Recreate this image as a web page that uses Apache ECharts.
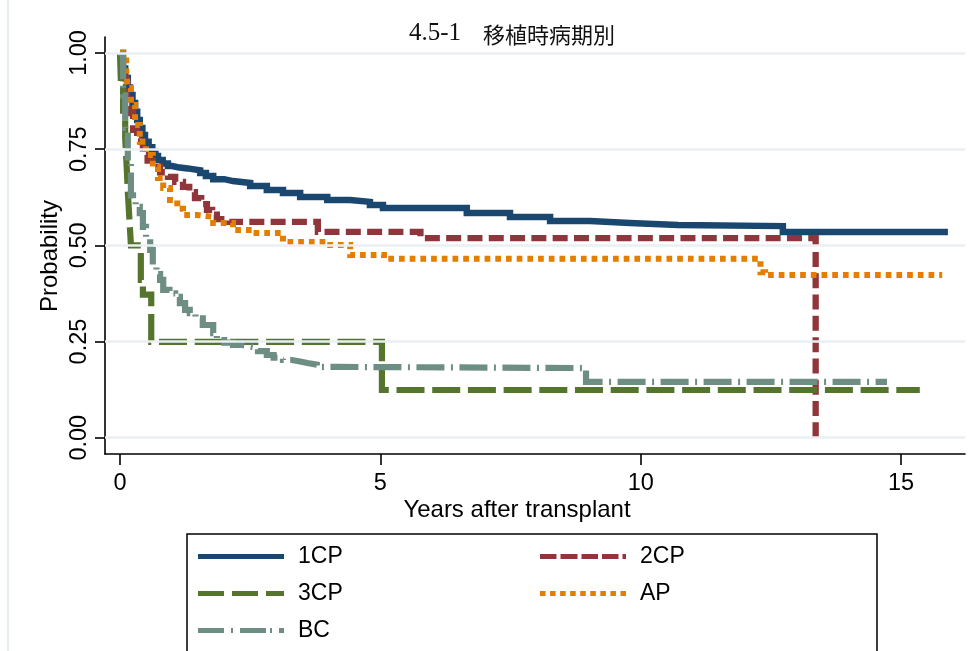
<!DOCTYPE html>
<html>
<head>
<meta charset="utf-8">
<script src="https://cdn.jsdelivr.net/npm/echarts@6/dist/echarts.min.js"></script>
<style>
html,body{margin:0;padding:0;background:#fff;}
#chart{width:976px;height:651px;}
</style>
</head>
<body>
<div id="chart"></div>
<script>
// ---- data ----
const titleNumber = '4.5-1';
const titleName = '\u3000移植時病期別';
const xTitle = 'Years after transplant';
const yTitle = 'Probability';
const xTicks = [0, 5, 10, 15];
const yTicks = [0, 0.25, 0.5, 0.75, 1];
const yTickLabels = ['0.00', '0.25', '0.50', '0.75', '1.00'];
const seriesNames = ['1CP', '2CP', '3CP', 'AP', 'BC'];

const cp1Time = [0, 0.05, 0.1, 0.15, 0.19, 0.24, 0.29, 0.33, 0.38, 0.43, 0.48, 0.55, 0.62, 0.68, 0.73, 0.82, 0.92, 1.0, 1.11, 1.3, 1.54, 1.65, 1.79, 2.0, 2.17, 2.5, 2.82, 3.13, 3.46, 3.98, 4.42, 4.8, 5.05, 6.66, 7.49, 8.26, 9.03, 9.79, 10.72, 12.73, 15.9];
const cp1Surv = [1, 0.96, 0.935, 0.91, 0.891, 0.87, 0.847, 0.826, 0.805, 0.787, 0.769, 0.755, 0.743, 0.732, 0.722, 0.713, 0.706, 0.703, 0.70, 0.695, 0.688, 0.68, 0.672, 0.667, 0.662, 0.654, 0.644, 0.636, 0.626, 0.618, 0.613, 0.605, 0.597, 0.584, 0.574, 0.563, 0.558, 0.553, 0.55, 0.535, 0.535];

const cp2Time = [0, 0.06, 0.13, 0.21, 0.25, 0.33, 0.44, 0.53, 0.63, 0.77, 0.92, 1.06, 1.21, 1.33, 1.44, 1.56, 1.67, 1.77, 1.86, 2.1, 3.8, 5.77, 13.36, 13.36];
const cp2Surv = [1, 0.935, 0.88, 0.844, 0.80, 0.77, 0.735, 0.72, 0.704, 0.69, 0.678, 0.665, 0.652, 0.638, 0.623, 0.607, 0.592, 0.58, 0.568, 0.561, 0.535, 0.519, 0.519, 0];

const cp3Time = [0, 0.02, 0.06, 0.1, 0.13, 0.15, 0.18, 0.21, 0.40, 0.44, 0.6, 5.03, 15.36];
const cp3Surv = [1, 0.912, 0.85, 0.78, 0.70, 0.64, 0.57, 0.50, 0.41, 0.372, 0.249, 0.124, 0.124];

const apTime = [0, 0.12, 0.15, 0.21, 0.29, 0.38, 0.5, 0.63, 0.73, 0.83, 0.96, 1.1, 1.21, 1.48, 1.79, 2.17, 2.56, 3.13, 3.98, 4.42, 5.07, 12.3, 12.39, 15.79];
const apSurv = [1, 0.956, 0.909, 0.865, 0.813, 0.769, 0.735, 0.704, 0.675, 0.649, 0.618, 0.595, 0.579, 0.574, 0.558, 0.54, 0.532, 0.509, 0.501, 0.475, 0.465, 0.43, 0.423, 0.423];

const bcTime = [0, 0.02, 0.06, 0.1, 0.15, 0.21, 0.25, 0.3, 0.38, 0.44, 0.5, 0.58, 0.63, 0.7, 0.77, 0.83, 0.95, 1.06, 1.15, 1.25, 1.34, 1.45, 1.59, 1.79, 1.86, 2.0, 2.17, 2.35, 2.5, 2.65, 2.82, 2.95, 3.13, 3.3, 3.46, 3.6, 3.78, 4.2, 8.95, 14.73];
const bcSurv = [1, 0.995, 0.89, 0.805, 0.717, 0.63, 0.62, 0.60, 0.584, 0.548, 0.52, 0.488, 0.444, 0.425, 0.41, 0.384, 0.375, 0.366, 0.35, 0.332, 0.324, 0.31, 0.293, 0.272, 0.254, 0.247, 0.241, 0.237, 0.233, 0.225, 0.215, 0.208, 0.202, 0.198, 0.194, 0.19, 0.184, 0.181, 0.145, 0.145];

// ---- build ----
function zip(t, s) { return t.map((v, i) => [v, s[i]]); }
const chart = echarts.init(document.getElementById('chart'), null, {renderer: 'canvas'});
const FONT = 'Liberation Sans, Arial, Helvetica, sans-serif';

function curve(name, t, s, color, dash, width) {
  return {
    name: name, type: 'line', step: 'end', data: zip(t, s),
    symbol: 'none', showSymbol: false, z: 3,
    lineStyle: {color: color, width: width, type: dash, cap: 'butt', join: 'miter'},
    itemStyle: {color: color, borderWidth: 0},
    emphasis: {disabled: true}
  };
}

// legend sample glyphs (86 x 5 boxes made of dash rectangles)
function dashPath(segs) {
  return 'path://' + segs.map(s => 'M' + s[0] + ',0H' + s[1] + 'V5H' + s[0] + 'Z').join(' ');
}
const iconSolid = dashPath([[0, 86]]);
const iconDash = dashPath([[0, 16.5], [20.5, 37.5], [41.5, 58], [62, 78.5], [82.5, 86]]);
const iconLongDash = dashPath([[0, 26], [34, 60], [68, 86]]);
const iconDot = dashPath([[0, 5.5], [10, 15.5], [20, 25.5], [30, 35.5], [40, 45.5], [50, 55.5], [60, 65.5], [70, 75.5], [80, 85.5]]);
const iconDashDot = dashPath([[0, 26], [33, 35], [42, 68], [72, 74], [81, 86]]);

const legendText = {fontSize: 23, color: '#000', fontFamily: FONT, padding: [0, 0, 0, 9], lineHeight: 23};
const legendCommon = {orient: 'vertical', top: 545, padding: 0, itemWidth: 86, itemHeight: 5, itemGap: 14,
  symbolKeepAspect: false, textStyle: legendText, selectedMode: false,
  itemStyle: {borderWidth: 0}};

const option = {
  backgroundColor: '#fff',
  animation: false,
  grid: {left: 105, right: 11, top: 37, bottom: 197},
  xAxis: {
    type: 'value', min: -0.288, max: 16.228,
    axisLine: {show: true, onZero: false, lineStyle: {color: '#000', width: 1.6}},
    axisTick: {show: true, length: 11, customValues: xTicks, lineStyle: {color: '#000', width: 1.6}},
    axisLabel: {customValues: xTicks, margin: 18, fontSize: 23.5, color: '#000', fontFamily: FONT},
    splitLine: {show: false}
  },
  yAxis: {
    type: 'value', min: -0.0424, max: 1.0416,
    axisLine: {show: true, onZero: false, lineStyle: {color: '#000', width: 1.6}},
    axisTick: {show: true, length: 10, customValues: yTicks, lineStyle: {color: '#000', width: 1.6}},
    axisLabel: {
      customValues: yTicks, rotate: 90, margin: 13, fontSize: 23.5, color: '#000', fontFamily: FONT,
      formatter: function (v) { const i = yTicks.indexOf(v); return i >= 0 ? yTickLabels[i] : ''; }
    },
    splitLine: {show: false}
  },
  legend: [
    Object.assign({}, legendCommon, {left: 198, data: [
      {name: seriesNames[0], icon: iconSolid},
      {name: seriesNames[2], icon: iconLongDash},
      {name: seriesNames[4], icon: iconDashDot}]}),
    Object.assign({}, legendCommon, {left: 540, data: [
      {name: seriesNames[1], icon: iconDash},
      {name: seriesNames[3], icon: iconDot}]})
  ],
  series: [
    {
      name: 'grid', type: 'line', data: [], z: 1, silent: true,
      markLine: {
        silent: true, symbol: ['none', 'none'], label: {show: false},
        lineStyle: {color: '#e9eff2', width: 2.5, type: 'solid'},
        emphasis: {disabled: true},
        data: yTicks.map(v => ({yAxis: v}))
      }
    },
    curve(seriesNames[0], cp1Time, cp1Surv, '#1a476f', 'solid', 6.5),
    curve(seriesNames[1], cp2Time, cp2Surv, '#90353b', [15, 6.3], 6.3),
    curve(seriesNames[2], cp3Time, cp3Surv, '#55752f', [28, 7.7], 6.2),
    curve(seriesNames[3], apTime, apSurv, '#e37e00', [5.7, 5], 6),
    curve(seriesNames[4], bcTime, bcSurv, '#6e8e84', [28, 6.5, 2, 6.5], 6.2)
  ],
  graphic: [
    {type: 'line', shape: {x1: 8, y1: 0, x2: 8, y2: 651}, style: {stroke: '#e6edf0', lineWidth: 2}, silent: true},
    {type: 'text', x: 512, y: 33, style: {
      text: '{a|' + titleNumber + '}{b|' + titleName + '}',
      textAlign: 'center', textVerticalAlign: 'middle',
      rich: {
        a: {fontSize: 25, fontFamily: 'Liberation Serif, DejaVu Serif, serif', fill: '#111', verticalAlign: 'bottom'},
        b: {fontSize: 22, fontFamily: 'Noto Sans CJK JP, sans-serif', fill: '#111', verticalAlign: 'bottom'}
      }}},
    {type: 'text', x: 50, y: 256, rotation: Math.PI / 2, style: {text: yTitle, fontSize: 24, fontFamily: FONT, fill: '#000', textAlign: 'center', textVerticalAlign: 'middle'}},
    {type: 'text', x: 517, y: 510, style: {text: xTitle, fontSize: 24, fontFamily: FONT, fill: '#000', textAlign: 'center', textVerticalAlign: 'middle'}},
    {type: 'rect', shape: {x: 187, y: 534, width: 690, height: 140}, style: {fill: 'none', stroke: '#000', lineWidth: 1.5}, silent: true}
  ]
};
chart.setOption(option);
</script>
</body>
</html>
